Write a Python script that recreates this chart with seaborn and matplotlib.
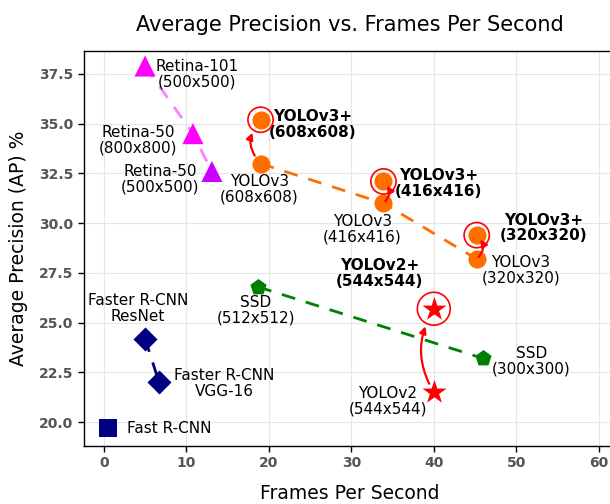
import numpy as np
import pandas as pd
import seaborn as sns
import matplotlib.pyplot as plt

# Base detectors
models = ["Retina-101\n(500x500)", "Retina-50\n(800x800)", "Retina-50\n(500x500)",
          "YOLOv3\n(608x608)", "YOLOv3\n(416x416)", "YOLOv3\n(320x320)",
          "SSD\n(512x512)", "SSD\n(300x300)",
          "YOLOv2\n(544x544)",
          "Faster R-CNN\nResNet", "Faster R-CNN\nVGG-16",
          "Fast R-CNN"]
groups = ["Retina", "Retina", "Retina",
          "YOLOv3", "YOLOv3", "YOLOv3",
          "SSD", "SSD",
          "YOLOv2",
          "Faster", "Faster",
          "Fast"]
fps = [5.0, 10.8, 13.1, 19.0, 33.9, 45.2, 18.7, 46.0, 40.0, 5.0, 6.7, 0.5]
ap = [37.9, 34.5, 32.6, 33.0, 31.0, 28.2, 26.8, 23.2, 21.5, 24.2, 22.0, 19.7]

# Improved ("+") detectors
plus_models = ["YOLOv3+\n(608x608)", "YOLOv3+\n(416x416)", "YOLOv3+\n(320x320)", "YOLOv2+\n(544x544)"]
plus_groups = ["YOLOv3", "YOLOv3", "YOLOv3", "YOLOv2"]
plus_fps = [19.0, 33.9, 45.2, 40.0]
plus_ap = [35.2, 32.1, 29.4, 25.7]

df = pd.DataFrame({"model": models, "group": groups, "fps": fps, "ap": ap})
df_plus = pd.DataFrame({"model": plus_models, "group": plus_groups, "fps": plus_fps, "ap": plus_ap})

palette = {"Retina": "#ff00ff", "YOLOv3": "#ff6f00", "SSD": "#008000",
           "YOLOv2": "#ff0000", "Faster": "#000080", "Fast": "#000080"}
retina_colors = {"Retina-101\n(500x500)": "#ff00ff", "Retina-50\n(800x800)": "#ff00ff",
                 "Retina-50\n(500x500)": "#cc00ff"}
markers = {"Retina": "^", "YOLOv3": "o", "SSD": "p", "YOLOv2": "*", "Faster": "D", "Fast": "s"}
sizes = {"Retina": 230, "YOLOv3": 170, "SSD": 150, "YOLOv2": 330, "Faster": 150, "Fast": 170}

sns.set_style("whitegrid", {"grid.color": "#e6e6e6", "axes.edgecolor": "black"})
plt.rcParams["text.color"] = "black"
plt.rcParams["axes.labelcolor"] = "black"

fig = plt.figure(figsize=(6.1, 5.04), dpi=100)
ax = fig.add_axes([0.1377, 0.115, 0.871, 0.784])

# dashed connecting lines
line_alpha = {"Retina": 0.5, "YOLOv3": 1.0, "SSD": 1.0, "Faster": 1.0}
for g, a in line_alpha.items():
    sub = df[df["group"] == g]
    sns.lineplot(data=sub, x="fps", y="ap", ax=ax, color=palette[g], lw=2,
                 linestyle=(0, (5, 4)), alpha=a, sort=False, zorder=1)

# markers
for g in markers:
    sub = df[df["group"] == g]
    if g == "Retina":
        sns.scatterplot(data=sub, x="fps", y="ap", ax=ax, hue="model", palette=retina_colors,
                        marker=markers[g], s=sizes[g], linewidth=0, zorder=3, legend=False)
    else:
        sns.scatterplot(data=sub, x="fps", y="ap", ax=ax, color=palette[g], marker=markers[g],
                        s=sizes[g], linewidth=0, zorder=3)
    subp = df_plus[df_plus["group"] == g]
    if len(subp):
        sns.scatterplot(data=subp, x="fps", y="ap", ax=ax, color=palette[g], marker=markers[g],
                        s=sizes[g], linewidth=0, zorder=3)
        ring = 330 if g == "YOLOv3" else 560
        ax.scatter(subp["fps"], subp["ap"], s=ring, facecolors="none", edgecolors="red",
                   linewidths=1.2, zorder=4)

# labels (offsets in pixels)
offsets = [(52, -8), (-55, -7), (-52, -8),
           (-1, -26), (-21, -26), (44, -11),
           (-2, -23), (48, -3),
           (-46, -9),
           (-7, 30), (65, -1),
           (19, 0)]
for m, x, y, (dx, dy) in zip(df["model"], df["fps"], df["ap"], offsets):
    ha = "left" if m == "Fast R-CNN" else "center"
    ax.annotate(m, (x, y), xytext=(dx, dy), textcoords="offset pixels",
                ha=ha, va="center", fontsize=11, linespacing=1.05, color="black")

plus_offsets = [(52, -5), (55, -2), (67, 7), (-54, 35)]
for m, x, y, (dx, dy) in zip(df_plus["model"], df_plus["fps"], df_plus["ap"], plus_offsets):
    ax.annotate(m, (x, y), xytext=(dx, dy), textcoords="offset pixels",
                ha="center", va="center", fontsize=11, fontweight="bold",
                linespacing=1.05, color="black")

# arrows from base to improved
rads = [-0.45, 0.5, 0.5, -0.3]
shrinks = [(7, 11), (2, 4), (2, 4), (7, 14)]
for (m, x, y, g), rad, (sa, sb) in zip(df_plus[["model", "fps", "ap", "group"]].values, rads, shrinks):
    base = df[(df["group"] == g) & (df["fps"] == x)].iloc[0]
    ax.annotate("", xy=(x, y), xytext=(base["fps"], base["ap"]),
                arrowprops=dict(arrowstyle="-|>", color="red", lw=1.6, mutation_scale=10,
                                connectionstyle=f"arc3,rad={rad}", shrinkA=sa, shrinkB=sb),
                zorder=5)

ax.set_xlim(-2.4, 62.0)
ax.set_ylim(18.8, 38.66)
ax.set_xticks(np.arange(0, 61, 10))
ax.set_yticks(np.arange(20, 38, 2.5))
ax.tick_params(axis="both", which="major", length=4, width=1, color="black",
               labelsize=10, labelcolor="#555555", bottom=True, left=True)
for lab in ax.get_xticklabels() + ax.get_yticklabels():
    lab.set_fontweight("bold")
for sp in ax.spines.values():
    sp.set_color("black")
    sp.set_linewidth(1.0)

ax.set_xlabel("Frames Per Second", fontsize=13.5, labelpad=10, color="black")
ax.set_ylabel("Average Precision (AP) %", fontsize=13.5, labelpad=8, color="black")
ax.set_title("Average Precision vs. Frames Per Second", fontsize=15, pad=14, color="black")

fig.savefig("out.png", dpi=100)
